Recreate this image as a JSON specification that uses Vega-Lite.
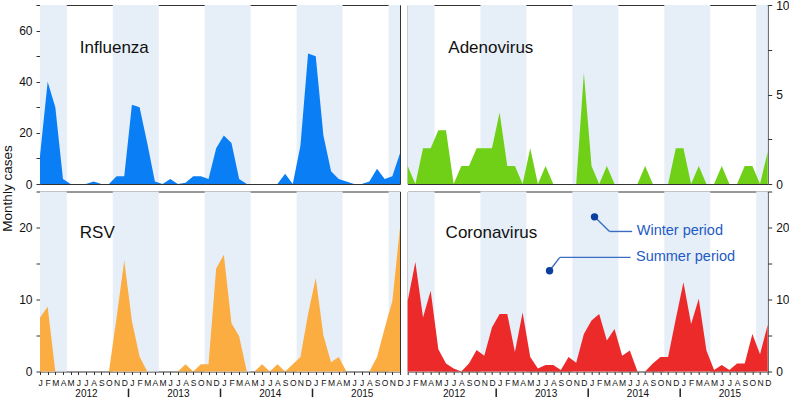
{
  "$schema": "https://vega.github.io/schema/vega-lite/v6.json",
  "padding": {"left": 0, "top": -2, "right": 0, "bottom": 0},
  "background": "white",
  "bounds": "flush",
  "columns": 2,
  "spacing": {"row": 7.5, "column": 7.7},
  "config": {
    "font": "Liberation Sans",
    "view": {"stroke": "#333", "strokeWidth": 1},
    "axis": {"grid": false, "domain": false, "tickColor": "#333", "labelColor": "#111", "labelFont": "Liberation Sans", "titleFont": "Liberation Sans"}
  },
  "datasets": {
    "cases": [
      {"m":0,"flu":11,"adeno":1,"rsv":7.5,"cov":9.8},
      {"m":1,"flu":40,"adeno":0,"rsv":9,"cov":15.2},
      {"m":2,"flu":30,"adeno":2,"rsv":0,"cov":7.5},
      {"m":3,"flu":2,"adeno":2,"rsv":0,"cov":11.2},
      {"m":4,"flu":0,"adeno":3,"rsv":0,"cov":3.1},
      {"m":5,"flu":0,"adeno":3,"rsv":0,"cov":1.1},
      {"m":6,"flu":0,"adeno":0,"rsv":0,"cov":0.4},
      {"m":7,"flu":1,"adeno":1,"rsv":0,"cov":0},
      {"m":8,"flu":0,"adeno":1,"rsv":0,"cov":1.1},
      {"m":9,"flu":0,"adeno":2,"rsv":0,"cov":3},
      {"m":10,"flu":3,"adeno":2,"rsv":7.5,"cov":2.2},
      {"m":11,"flu":3,"adeno":2,"rsv":15.4,"cov":6.1},
      {"m":12,"flu":31,"adeno":4,"rsv":7,"cov":8},
      {"m":13,"flu":30,"adeno":1,"rsv":2.1,"cov":8},
      {"m":14,"flu":16,"adeno":1,"rsv":0,"cov":2.7},
      {"m":15,"flu":1,"adeno":0,"rsv":0,"cov":8.2},
      {"m":16,"flu":0,"adeno":2,"rsv":0,"cov":2},
      {"m":17,"flu":2,"adeno":0,"rsv":0,"cov":0.4},
      {"m":18,"flu":0,"adeno":1,"rsv":0,"cov":0.9},
      {"m":19,"flu":0.5,"adeno":0,"rsv":1,"cov":0.9},
      {"m":20,"flu":3,"adeno":0,"rsv":0,"cov":0.2},
      {"m":21,"flu":3,"adeno":0,"rsv":1,"cov":2},
      {"m":22,"flu":2,"adeno":0,"rsv":1,"cov":1.2},
      {"m":23,"flu":14,"adeno":6.2,"rsv":14.3,"cov":5.2},
      {"m":24,"flu":19,"adeno":1,"rsv":16.2,"cov":7.1},
      {"m":25,"flu":16,"adeno":0,"rsv":6.7,"cov":8},
      {"m":26,"flu":2,"adeno":1,"rsv":4.9,"cov":4.3},
      {"m":27,"flu":0,"adeno":0,"rsv":0,"cov":5.9},
      {"m":28,"flu":0,"adeno":0,"rsv":0,"cov":2.2},
      {"m":29,"flu":0,"adeno":0,"rsv":1,"cov":2.9},
      {"m":30,"flu":0,"adeno":0,"rsv":0,"cov":0},
      {"m":31,"flu":0,"adeno":1,"rsv":1,"cov":0},
      {"m":32,"flu":4,"adeno":0,"rsv":0,"cov":1.1},
      {"m":33,"flu":0,"adeno":0,"rsv":1,"cov":2},
      {"m":34,"flu":15,"adeno":0,"rsv":2,"cov":2},
      {"m":35,"flu":51,"adeno":2,"rsv":8,"cov":7.3},
      {"m":36,"flu":50,"adeno":2,"rsv":13,"cov":12.4},
      {"m":37,"flu":19,"adeno":0,"rsv":5,"cov":6.6},
      {"m":38,"flu":5,"adeno":1,"rsv":1.3,"cov":10.1},
      {"m":39,"flu":2,"adeno":0,"rsv":2,"cov":2.9},
      {"m":40,"flu":1,"adeno":0,"rsv":0,"cov":0.2},
      {"m":41,"flu":0,"adeno":1,"rsv":0,"cov":0.9},
      {"m":42,"flu":0,"adeno":0,"rsv":0,"cov":0.2},
      {"m":43,"flu":1,"adeno":0,"rsv":0,"cov":1.1},
      {"m":44,"flu":6,"adeno":1,"rsv":2,"cov":1.1},
      {"m":45,"flu":2,"adeno":1,"rsv":6,"cov":5.2},
      {"m":46,"flu":3,"adeno":0,"rsv":9.8,"cov":2.4},
      {"m":47,"flu":12,"adeno":1.8,"rsv":20,"cov":6.5}
    ],
    "bands": [
      {"s":0,"e":3.5},{"s":9.5,"e":15.5},{"s":21.5,"e":27.5},{"s":33.5,"e":39.5},{"s":45.5,"e":47}
    ],
    "noteLines": [
      {"x":24.39,"y":21.48,"x2":26.35,"y2":19.45},
      {"x":26.35,"y":19.45,"x2":29.3,"y2":19.45},
      {"x":18.52,"y":13.99,"x2":19.86,"y2":15.85},
      {"x":19.86,"y":15.85,"x2":29.1,"y2":15.85}
    ],
    "noteDots": [
      {"x":24.39,"y":21.48},{"x":18.52,"y":13.99}
    ],
    "noteText": [
      {"x":29.9,"y":19.45,"t":"Winter period"},
      {"x":29.8,"y":15.85,"t":"Summer period"}
    ]
  },
  "concat": [
    {
      "width": 360, "height": 179,
      "resolve": {"axis": {"x": "independent", "y": "independent"}},
      "layer": [
        {"data": {"name": "bands"}, "mark": {"type": "rect", "color": "#e6eef8"},
         "encoding": {"x": {"field": "s", "type": "quantitative", "scale": {"domain": [0, 47], "nice": false, "zero": false}, "axis": null}, "x2": {"field": "e"}}},
        {"data": {"name": "cases"}, "mark": {"type": "area", "color": "#0a7ff5"},
         "encoding": {
           "x": {"field": "m", "type": "quantitative", "scale": {"domain": [0, 47], "nice": false, "zero": false}, "axis": null},
           "y": {"field": "flu", "type": "quantitative", "scale": {"domain": [0, 70], "nice": false},
                 "axis": {"orient": "left", "values": [0,10,20,30,40,50,60,70], "labelExpr": "datum.value % 20 === 0 ? datum.label : ''",
                          "tickSize": 4, "labelPadding": 4, "labelFontSize": 12,
                          "title": "Monthly cases", "titleX": -28.5, "titleY": 183, "titleAngle": -90, "titleAlign": "center", "titleBaseline": "alphabetic",
                          "titleFontSize": 13.5, "titleFontWeight": "normal", "titleColor": "#111"}}}},
        {"data": {"values": [{}]}, "mark": {"type": "text", "text": "Influenza", "align": "left", "baseline": "alphabetic", "fontSize": 17, "color": "#111"},
         "encoding": {"x": {"datum": 5.2, "type": "quantitative", "scale": {"domain": [0, 47], "nice": false, "zero": false}, "axis": null},
                      "y": {"datum": 51.2, "type": "quantitative", "scale": {"domain": [0, 70], "nice": false}, "axis": null}}}
      ]
    },
    {
      "width": 360, "height": 179,
      "resolve": {"axis": {"x": "independent", "y": "independent"}},
      "layer": [
        {"data": {"name": "bands"}, "mark": {"type": "rect", "color": "#e6eef8"},
         "encoding": {"x": {"field": "s", "type": "quantitative", "scale": {"domain": [0, 47], "nice": false, "zero": false}, "axis": null}, "x2": {"field": "e"}}},
        {"data": {"name": "cases"}, "mark": {"type": "area", "color": "#70d017"},
         "encoding": {
           "x": {"field": "m", "type": "quantitative", "scale": {"domain": [0, 47], "nice": false, "zero": false}, "axis": null},
           "y": {"field": "adeno", "type": "quantitative", "scale": {"domain": [0, 10], "nice": false},
                 "axis": {"orient": "right", "values": [0,2.5,5,7.5,10], "labelExpr": "datum.value % 5 === 0 ? datum.label : ''",
                          "tickSize": 4, "labelPadding": 4, "labelFontSize": 12, "title": null}}}},
        {"data": {"values": [{}]}, "mark": {"type": "text", "text": "Adenovirus", "align": "left", "baseline": "alphabetic", "fontSize": 17, "color": "#111"},
         "encoding": {"x": {"datum": 5.3, "type": "quantitative", "scale": {"domain": [0, 47], "nice": false, "zero": false}, "axis": null},
                      "y": {"datum": 7.33, "type": "quantitative", "scale": {"domain": [0, 10], "nice": false}, "axis": null}}}
      ]
    },
    {
      "width": 360, "height": 180,
      "resolve": {"axis": {"x": "independent", "y": "independent"}},
      "layer": [
        {"data": {"name": "bands"}, "mark": {"type": "rect", "color": "#e6eef8"},
         "encoding": {"x": {"field": "s", "type": "quantitative", "scale": {"domain": [0, 47], "nice": false, "zero": false},
                            "axis": {"orient": "bottom", "values": [11.5, 23.5, 35.5], "labels": false, "domain": false, "ticks": true, "tickSize": 8.5, "tickWidth": 1.5, "tickColor": "#222", "offset": 16.6, "title": null}},
                      "x2": {"field": "e"}}},
        {"data": {"name": "cases"}, "mark": {"type": "area", "color": "#fbad41"},
         "encoding": {
           "x": {"field": "m", "type": "quantitative", "scale": {"domain": [0, 47], "nice": false, "zero": false},
                 "axis": {"orient": "bottom", "values": [0,1,2,3,4,5,6,7,8,9,10,11,12,13,14,15,16,17,18,19,20,21,22,23,24,25,26,27,28,29,30,31,32,33,34,35,36,37,38,39,40,41,42,43,44,45,46,47],
                          "labelExpr": "substring('JFMAMJJASOND', datum.value % 12, datum.value % 12 + 1)", "labelFontSize": 8.5, "tickSize": 3, "labelPadding": 3.5,
                          "labelOverlap": false, "labelFlush": false, "labelBound": false, "title": null}},
           "y": {"field": "rsv", "type": "quantitative", "scale": {"domain": [0, 25], "nice": false},
                 "axis": {"orient": "left", "values": [0,5,10,15,20,25], "labelExpr": "datum.value % 10 === 0 ? datum.label : ''",
                          "tickSize": 4, "labelPadding": 4, "labelFontSize": 12, "title": null}}}},
        {"data": {"values": [{}]}, "mark": {"type": "text", "text": "RSV", "align": "left", "baseline": "alphabetic", "fontSize": 17, "color": "#111"},
         "encoding": {"x": {"datum": 5.2, "type": "quantitative", "scale": {"domain": [0, 47], "nice": false, "zero": false},
                            "axis": {"orient": "bottom", "values": [6, 18, 30, 42], "labelExpr": "'' + (2012 + floor(datum.value / 12))", "ticks": false, "domain": false,
                                     "labelPadding": 17, "labelFontSize": 10, "labelOverlap": false, "labelColor": "#111", "title": null}},
                      "y": {"datum": 18.5, "type": "quantitative", "scale": {"domain": [0, 25], "nice": false}, "axis": null}}}
      ]
    },
    {
      "width": 360, "height": 180,
      "resolve": {"axis": {"x": "independent", "y": "independent"}},
      "layer": [
        {"data": {"name": "bands"}, "mark": {"type": "rect", "color": "#e6eef8"},
         "encoding": {"x": {"field": "s", "type": "quantitative", "scale": {"domain": [0, 47], "nice": false, "zero": false},
                            "axis": {"orient": "bottom", "values": [11.5, 23.5, 35.5], "labels": false, "domain": false, "ticks": true, "tickSize": 8.5, "tickWidth": 1.5, "tickColor": "#222", "offset": 16.6, "title": null}},
                      "x2": {"field": "e"}}},
        {"data": {"name": "cases"}, "mark": {"type": "area", "color": "#ed2a2a"},
         "encoding": {
           "x": {"field": "m", "type": "quantitative", "scale": {"domain": [0, 47], "nice": false, "zero": false},
                 "axis": {"orient": "bottom", "values": [0,1,2,3,4,5,6,7,8,9,10,11,12,13,14,15,16,17,18,19,20,21,22,23,24,25,26,27,28,29,30,31,32,33,34,35,36,37,38,39,40,41,42,43,44,45,46,47],
                          "labelExpr": "substring('JFMAMJJASOND', datum.value % 12, datum.value % 12 + 1)", "labelFontSize": 8.5, "tickSize": 3, "labelPadding": 3.5,
                          "labelOverlap": false, "labelFlush": false, "labelBound": false, "title": null}},
           "y": {"field": "cov", "type": "quantitative", "scale": {"domain": [0, 25], "nice": false},
                 "axis": {"orient": "right", "values": [0,5,10,15,20,25], "labelExpr": "datum.value % 10 === 0 ? datum.label : ''",
                          "tickSize": 4, "labelPadding": 4, "labelFontSize": 12, "title": null}}}},
        {"data": {"values": [{}]}, "mark": {"type": "text", "text": "Coronavirus", "align": "left", "baseline": "alphabetic", "fontSize": 17, "color": "#111"},
         "encoding": {"x": {"datum": 4.95, "type": "quantitative", "scale": {"domain": [0, 47], "nice": false, "zero": false},
                            "axis": {"orient": "bottom", "values": [6, 18, 30, 42], "labelExpr": "'' + (2012 + floor(datum.value / 12))", "ticks": false, "domain": false,
                                     "labelPadding": 17, "labelFontSize": 10, "labelOverlap": false, "labelColor": "#111", "title": null}},
                      "y": {"datum": 18.5, "type": "quantitative", "scale": {"domain": [0, 25], "nice": false}, "axis": null}}},
        {"data": {"name": "noteLines"}, "mark": {"type": "rule", "color": "#3a6cc4", "strokeWidth": 1.4},
         "encoding": {"x": {"field": "x", "type": "quantitative", "scale": {"domain": [0, 47], "nice": false, "zero": false}, "axis": null},
                      "x2": {"field": "x2"},
                      "y": {"field": "y", "type": "quantitative", "scale": {"domain": [0, 25], "nice": false}, "axis": null},
                      "y2": {"field": "y2"}}},
        {"data": {"name": "noteDots"}, "mark": {"type": "point", "filled": true, "color": "#0b3f9e", "size": 55, "opacity": 1},
         "encoding": {"x": {"field": "x", "type": "quantitative", "scale": {"domain": [0, 47], "nice": false, "zero": false}, "axis": null},
                      "y": {"field": "y", "type": "quantitative", "scale": {"domain": [0, 25], "nice": false}, "axis": null}}},
        {"data": {"name": "noteText"}, "mark": {"type": "text", "align": "left", "baseline": "middle", "fontSize": 14.5, "color": "#1f5bc4"},
         "encoding": {"x": {"field": "x", "type": "quantitative", "scale": {"domain": [0, 47], "nice": false, "zero": false}, "axis": null},
                      "y": {"field": "y", "type": "quantitative", "scale": {"domain": [0, 25], "nice": false}, "axis": null},
                      "text": {"field": "t"}}}
      ]
    }
  ]
}
